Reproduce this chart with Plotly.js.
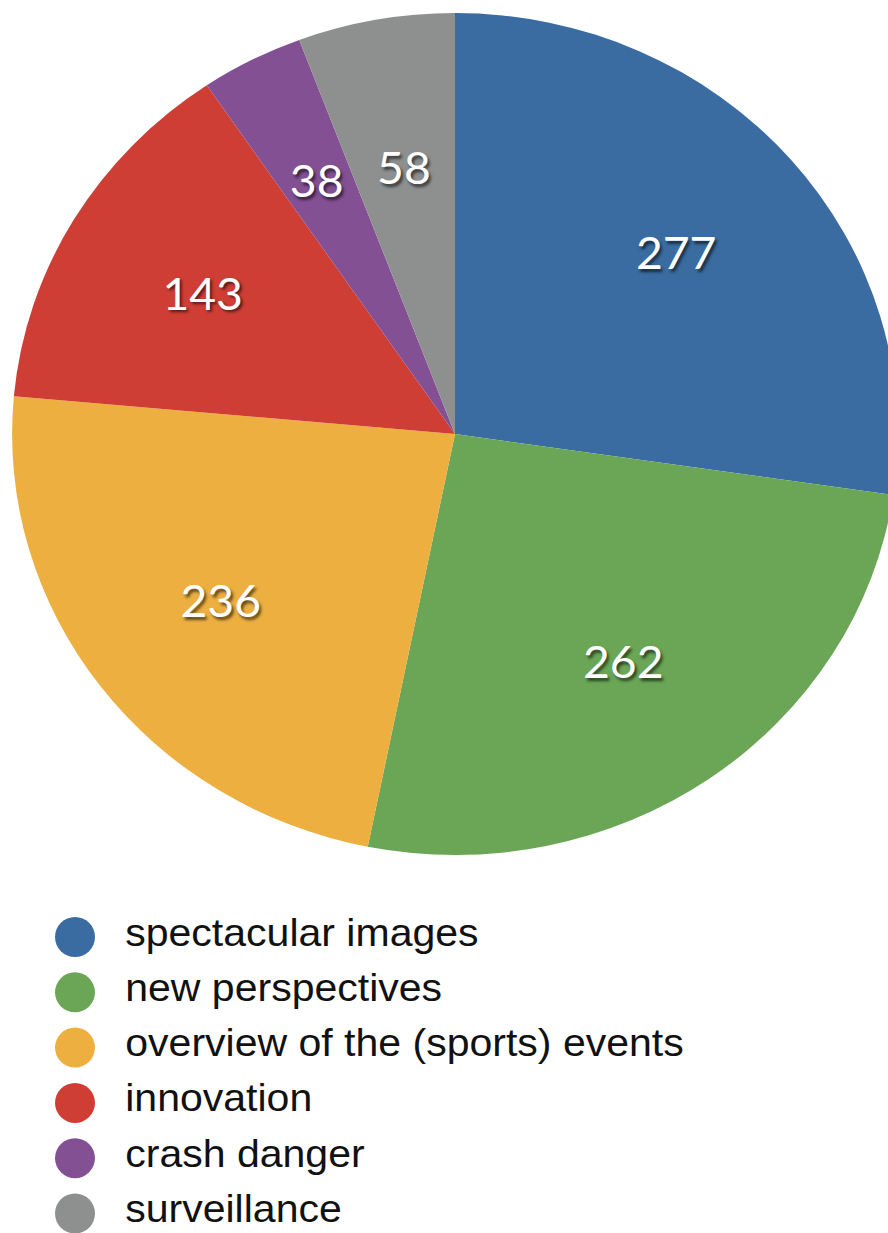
<!DOCTYPE html>
<html>
<head>
<meta charset="utf-8">
<script src="https://cdn.plot.ly/plotly-3.0.1.min.js"></script>
<style>
  html, body { margin: 0; padding: 0; background: #ffffff; overflow: hidden; width: 888px; height: 1233px; }
  #chart { width: 900px; height: 1233px; transform: scaleX(1.052); transform-origin: 0 0; }
</style>
</head>
<body>
<div id="chart"></div>
<script>
const categories = ["spectacular images", "new perspectives", "overview of the (sports) events", "innovation", "crash danger", "surveillance"];
const counts = [277, 262, 236, 143, 38, 58];
const colors = ["#3a6ca1", "#6aa656", "#edb040", "#cf3e35", "#845094", "#8e8f8f"];

const W = 900, H = 1233;
const px = x => x / W;
const py = y => 1 - y / H;

// pie geometry (pixels before the horizontal stretch)
const CX = 432.5, CY = 434, R = 421;
function dom(scale) {
  const r = R * scale;
  return { x: [px(CX - r), px(CX + r)], y: [py(CY + r), py(CY - r)] };
}

const labelFont = { family: "Lato, 'Open Sans', sans-serif", size: 44, color: "#ffffff", shadow: "2px 3px 3px rgba(0,0,0,0.6)" };
const clear = categories.map(() => "rgba(0,0,0,0)");

const mainPie = {
  type: "pie", labels: categories, values: counts, sort: false,
  direction: "clockwise", rotation: 0,
  marker: { colors: colors, line: { width: 0 } },
  textinfo: "none", hoverinfo: "label+value", showlegend: false,
  domain: dom(1)
};

// transparent copies of the same pie that only carry the value labels,
// so each label sits at about two thirds of the radius
function labelPie(show, scale, hole) {
  return {
    type: "pie", labels: categories, values: counts, sort: false,
    direction: "clockwise", rotation: 0, hole: hole,
    marker: { colors: clear, line: { width: 0 } },
    texttemplate: categories.map((c, i) => show.includes(i) ? "%{value}" : ""),
    textposition: "inside", insidetextorientation: "horizontal",
    textfont: labelFont, hoverinfo: "skip", showlegend: false,
    domain: dom(scale)
  };
}

const traces = [
  mainPie,
  labelPie([0, 1, 2], 1, 0.32),
  labelPie([3], 0.945, 0),
  labelPie([4, 5], 0.76, 0)
];

// legend built from the category list
const shapes = [];
const annotations = [];
const legendTop = 937, legendStep = 55.3;
categories.forEach((c, i) => {
  const cy = legendTop + i * legendStep;
  const cx = 75 / 1.052;
  shapes.push({
    type: "circle", xref: "paper", yref: "paper",
    x0: px(cx - 19), x1: px(cx + 19), y0: py(cy + 20), y1: py(cy - 20),
    fillcolor: colors[i], line: { width: 0 }
  });
  annotations.push({
    xref: "paper", yref: "paper", x: px(123 / 1.052), y: py(cy - 5),
    xanchor: "left", yanchor: "middle", showarrow: false,
    text: c, font: { family: "'Liberation Sans', Arial, sans-serif", size: 39, color: "#111111" }
  });
});

const layout = {
  width: W, height: H,
  margin: { l: 0, r: 0, t: 0, b: 0 },
  paper_bgcolor: "#ffffff",
  plot_bgcolor: "#ffffff",
  showlegend: false,
  uniformtext: { minsize: 44, mode: "show" },
  shapes: shapes,
  annotations: annotations
};

Plotly.newPlot("chart", traces, layout, { displayModeBar: false, staticPlot: true });
</script>
</body>
</html>
